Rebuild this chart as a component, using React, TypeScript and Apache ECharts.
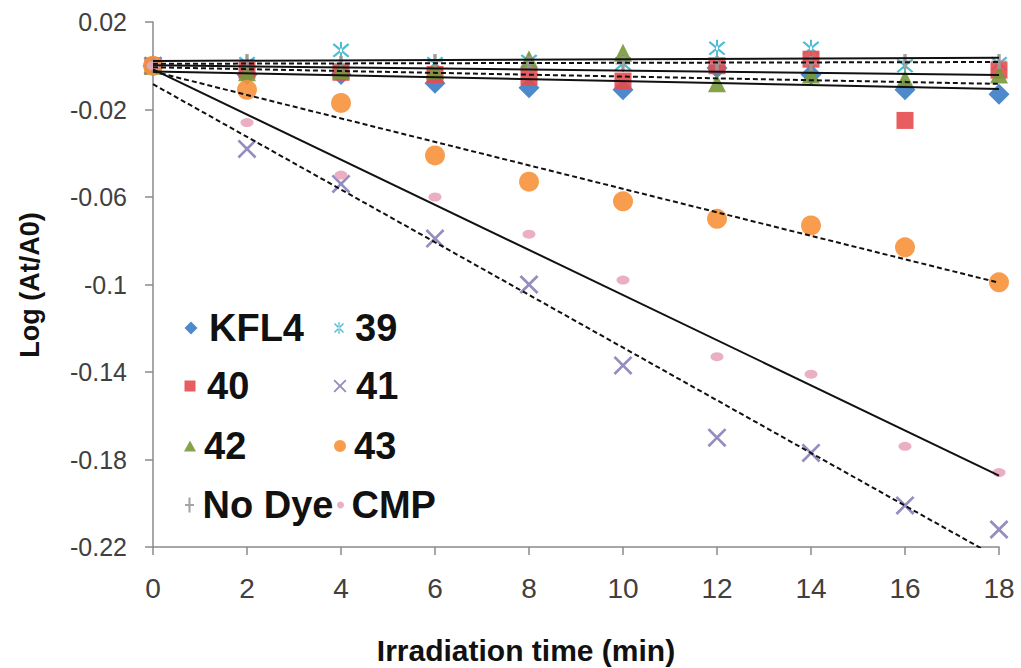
import React, { useEffect, useRef } from "react";
import * as echarts from "echarts";

const times = [0, 2, 4, 6, 8, 10, 12, 14, 16, 18];
const kfl4 = [0, -0.004, -0.004, -0.008, -0.01, -0.011, -0.001, -0.004, -0.011, -0.013];
const s39 = [0, 0.001, 0.007, 0.001, 0.002, 0.001, 0.008, 0.008, 0.0, 0.001];
const s40 = [0, -0.002, -0.003, -0.004, -0.005, -0.007, 0.0, 0.003, -0.025, -0.002];
const s41 = [0, -0.038, -0.054, -0.079, -0.1, -0.137, -0.17, -0.177, -0.201, -0.212];
const s42 = [0, -0.003, -0.002, -0.002, 0.003, 0.006, -0.008, -0.004, -0.006, -0.004];
const s43 = [0, -0.011, -0.017, -0.041, -0.053, -0.062, -0.07, -0.073, -0.083, -0.099];
const noDye = [0, 0.002, 0.001, 0.002, 0.001, 0.001, 0.001, 0.001, 0.002, 0.002];
const cmp = [0, -0.026, -0.05, -0.06, -0.077, -0.098, -0.133, -0.141, -0.174, -0.186];

const xTicks = { min: 0, max: 18, interval: 2 };
const yTicks = { min: -0.22, max: 0.02, interval: 0.04 };

const FONT = "'Liberation Sans', Arial, sans-serif";

const X_SYM = "path://M1,0 L5,4 L9,0 L10,1 L6,5 L10,9 L9,10 L5,6 L1,10 L0,9 L4,5 L0,1 Z";
const AST_SYM =
  "path://M1,0 L5,4 L9,0 L10,1 L6,5 L10,9 L9,10 L5,6 L1,10 L0,9 L4,5 L0,1 Z M4.4,-1 L4.4,11 L5.6,11 L5.6,-1 Z";
const PLUS_SYM = "path://M4.3,0 L4.3,10 L5.7,10 L5.7,0 Z M2,4.4 L2,5.6 L8,5.6 L8,4.4 Z";

type Def = {
  name: string;
  values: number[];
  color: string;
  symbol: string;
  size: number | number[];
  dashed: boolean;
  legendSize: number[];
};

const defs: Def[] = [
  { name: "KFL4", values: kfl4, color: "#3b7cc6", symbol: "diamond", size: 21, dashed: false, legendSize: [13, 13] },
  { name: "39", values: s39, color: "#38b6cf", symbol: AST_SYM, size: 17, dashed: false, legendSize: [12, 12] },
  { name: "40", values: s40, color: "#e64c4f", symbol: "rect", size: 17, dashed: true, legendSize: [11, 11] },
  { name: "41", values: s41, color: "#8a7fb8", symbol: X_SYM, size: 19, dashed: true, legendSize: [13, 13] },
  { name: "42", values: s42, color: "#78983a", symbol: "triangle", size: 18, dashed: false, legendSize: [12, 11] },
  { name: "43", values: s43, color: "#f7923a", symbol: "circle", size: 20, dashed: true, legendSize: [12, 12] },
  { name: "No Dye", values: noDye, color: "#9a9a9a", symbol: PLUS_SYM, size: 15, dashed: true, legendSize: [10, 15] },
  { name: "CMP", values: cmp, color: "#e9a6bb", symbol: "circle", size: [13, 9], dashed: false, legendSize: [10, 7] },
];

function linreg(xs: number[], ys: number[]): number[][] {
  const n = xs.length;
  const mx = xs.reduce((a, b) => a + b, 0) / n;
  const my = ys.reduce((a, b) => a + b, 0) / n;
  let sxy = 0;
  let sxx = 0;
  for (let i = 0; i < n; i++) {
    sxy += (xs[i] - mx) * (ys[i] - my);
    sxx += (xs[i] - mx) * (xs[i] - mx);
  }
  const b = sxy / sxx;
  const a = my - b * mx;
  const x0 = xs[0];
  const x1 = xs[n - 1];
  return [
    [x0, a + b * x0],
    [x1, a + b * x1],
  ];
}

// legend layout: [icon centre x, vertical centre, text start x]
const legendPos: Record<string, number[]> = {
  KFL4: [191, 328, 209],
  "39": [340, 328, 356],
  "40": [190, 386, 207],
  "41": [340, 386, 356],
  "42": [190, 446, 204],
  "43": [340, 446, 354],
  "No Dye": [190, 505, 203],
  CMP: [342, 505, 353],
};

export default function App() {
  const ref = useRef<HTMLDivElement>(null);
  useEffect(() => {
    if (!ref.current) return;
    const chart = echarts.init(ref.current, undefined, { renderer: "svg" });

    const scatterSeries = defs.map((d) => ({
      name: d.name,
      type: "scatter",
      data: times.map((t, i) => [t, d.values[i]]),
      symbol: d.symbol,
      symbolSize: d.size,
      itemStyle: { color: d.color, opacity: 0.9 },
      z: 2,
    }));

    const trendSeries = defs.map((d) => ({
      name: d.name + " trend",
      type: "line",
      data: linreg(times, d.values),
      symbol: "none",
      clip: true,
      lineStyle: {
        color: "#111",
        width: 2,
        type: d.dashed ? [5, 3] : "solid",
      },
      z: 5,
      silent: true,
    }));

    const legends = defs.map((d) => {
      const [cx, cy, tx] = legendPos[d.name];
      const [w, h] = d.legendSize;
      const iconLeft = cx - w / 2;
      const gap = Math.max(0, tx - (iconLeft + w) - 5);
      return {
        data: [d.name],
        left: iconLeft,
        top: cy - 21,
        orient: "horizontal",
        padding: 0,
        itemWidth: w,
        itemHeight: h,
        itemGap: 0,
        selectedMode: false,
        textStyle: {
          fontFamily: FONT,
          fontSize: 38,
          fontWeight: "bold",
          color: "#111",
          lineHeight: 42,
          padding: [0, 0, 0, gap],
        },
      };
    });

    const fmt = (v: number) => String(parseFloat(v.toFixed(2)));

    chart.setOption({
      animation: false,
      backgroundColor: "#ffffff",
      grid: { left: 153, right: 22, top: 22, bottom: 121, containLabel: false },
      legend: legends,
      xAxis: {
        type: "value",
        min: xTicks.min,
        max: xTicks.max,
        interval: xTicks.interval,
        axisLine: { show: true, onZero: false, lineStyle: { color: "#8a8a8a", width: 1.5 } },
        axisTick: { show: true, inside: false, length: 8, lineStyle: { color: "#8a8a8a", width: 1.5 } },
        axisLabel: { fontFamily: FONT, fontSize: 28, color: "#404040", margin: 27, formatter: fmt },
        splitLine: { show: false },
      },
      yAxis: {
        type: "value",
        min: yTicks.min,
        max: yTicks.max,
        interval: yTicks.interval,
        axisLine: { show: true, onZero: false, lineStyle: { color: "#8a8a8a", width: 1.5 } },
        axisTick: { show: true, inside: false, length: 8, lineStyle: { color: "#8a8a8a", width: 1.5 } },
        axisLabel: { fontFamily: FONT, fontSize: 25, color: "#404040", margin: 26, formatter: fmt },
        splitLine: { show: false },
      },
      graphic: [
        {
          type: "text",
          x: 526,
          y: 650,
          style: {
            text: "Irradiation time (min)",
            fontFamily: FONT,
            fontSize: 30,
            fontWeight: "bold",
            fill: "#111",
            align: "center",
            verticalAlign: "middle",
          },
        },
        {
          type: "text",
          x: 30,
          y: 285,
          rotation: Math.PI / 2,
          style: {
            text: "Log (At/A0)",
            fontFamily: FONT,
            fontSize: 27,
            fontWeight: "bold",
            fill: "#111",
            align: "center",
            verticalAlign: "middle",
          },
        },
      ],
      series: [...scatterSeries, ...trendSeries],
    });

    return () => chart.dispose();
  }, []);

  return (
    <div
      ref={ref}
      style={{ position: "fixed", left: 0, top: 0, width: 1021, height: 668, background: "#fff" }}
    />
  );
}
